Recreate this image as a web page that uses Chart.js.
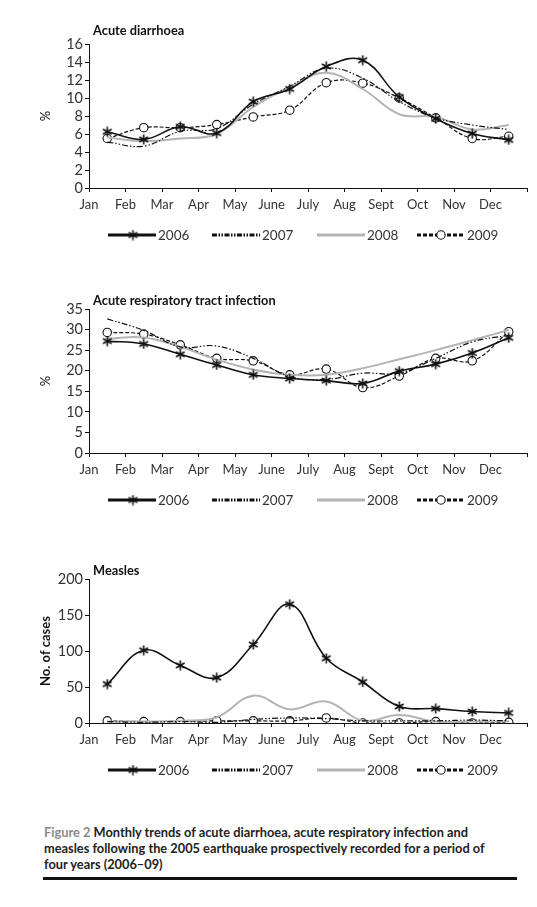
<!DOCTYPE html>
<html>
<head>
<meta charset="utf-8">
<script src="https://cdn.jsdelivr.net/npm/chart.js@4.4.1/dist/chart.umd.min.js"></script>
<style>
  body { margin: 0; background: #fff; width: 537px; height: 907px; position: relative; overflow: hidden; font-family: Lato, sans-serif; }
  .box { position: absolute; left: 0; width: 537px; height: 250px; }
  #cap { position: absolute; left: 44px; top: 825px; font-size: 12.8px; line-height: 15.8px; font-weight: bold; color: #222; white-space: nowrap; }
  #cap .fig { color: #8a8a8a; }
  #rule { position: absolute; left: 43px; top: 877px; width: 474px; height: 3px; background: #111; }
</style>
</head>
<body>
<div class="box" style="top:15px"><canvas id="c1" width="537" height="250"></canvas></div>
<div class="box" style="top:280px"><canvas id="c2" width="537" height="250"></canvas></div>
<div class="box" style="top:550px"><canvas id="c3" width="537" height="250"></canvas></div>
<div id="cap"><span class="fig">Figure 2</span> Monthly trends of acute diarrhoea, acute respiratory infection and<br>measles following the 2005 earthquake prospectively recorded for a period of<br>four years (2006–09)</div>
<div id="rule"></div>
<script>
  const months = ['Jan', 'Feb', 'Mar', 'Apr', 'May', 'June', 'July', 'Aug', 'Sept', 'Oct', 'Nov', 'Dec'];
  const years = ['2006', '2007', '2008', '2009'];

  // acute diarrhoea (%)
  const diarrhoea2006 = [6.25, 5.4, 6.8, 6.1, 9.6, 11.0, 13.5, 14.2, 10.1, 7.7, 6.05, 5.35];
  const diarrhoea2007 = [5.1, 4.65, 6.3, 6.6, 9.3, 11.3, 13.3, 12.2, 9.6, 7.8, 7.0, 6.5];
  const diarrhoea2008 = [5.6, 5.2, 5.5, 6.0, 9.0, 11.2, 12.8, 11.0, 8.2, 7.9, 6.5, 7.0];
  const diarrhoea2009 = [5.5, 6.7, 6.7, 7.05, 7.9, 8.65, 11.7, 11.65, 10.0, 7.8, 5.5, 5.75];

  // acute respiratory tract infection (%)
  const ari2006 = [27.2, 26.5, 24.0, 21.4, 19.0, 18.1, 17.6, 16.9, 19.9, 21.6, 24.3, 28.0];
  const ari2007 = [32.6, 29.8, 25.8, 26.0, 23.0, 18.6, 17.9, 19.4, 19.4, 23.0, 27.0, 28.6];
  const ari2008 = [27.8, 28.1, 25.8, 22.7, 20.3, 19.0, 19.0, 20.6, 22.8, 25.0, 27.4, 29.9];
  const ari2009 = [29.3, 28.9, 26.3, 23.0, 22.4, 19.0, 20.4, 15.9, 18.7, 23.0, 22.4, 29.5];

  // measles (no. of cases)
  const measles2006 = [54, 101, 80, 63, 109, 165, 90, 57, 23, 20, 16, 14];
  const measles2007 = [2, 1, 2, 1, 5, 7, 6, 3, 3, 3, 4, 3];
  const measles2008 = [2, 2, 3, 8, 38, 19, 30, 3, 11, 2, 2, 2];
  const measles2009 = [3, 2, 2, 3, 3, 3, 7, 0, 0, 2, 0, 1];

  Chart.defaults.font.family = 'Lato, sans-serif';
  Chart.defaults.color = '#333';

  // six point asterisk marker
  function makeStar(size, lw) {
    const c = document.createElement('canvas');
    c.width = size; c.height = size;
    const g = c.getContext('2d');
    const r = size / 2 - 0.5;
    g.strokeStyle = '#111';
    g.lineWidth = lw;
    g.lineCap = 'butt';
    g.translate(size / 2, size / 2);
    for (let k = 0; k < 3; k++) {
      const a = Math.PI / 2 + k * Math.PI / 3;
      g.beginPath();
      g.moveTo(Math.cos(a) * r, Math.sin(a) * r);
      g.lineTo(-Math.cos(a) * r, -Math.sin(a) * r);
      g.stroke();
    }
    return c;
  }
  const star = makeStar(11, 1.6);

  const looks = [
    { color: '#111', width: 1.6, dash: [], legendDash: [], marker: 'star' },
    { color: '#111', width: 1.2, dash: [6, 2, 1.5, 2, 1.5, 2], legendDash: [5, 1.5, 1.5, 1.5, 1.5, 1.5], marker: null },
    { color: '#b4b4b4', width: 2, dash: [], legendDash: [], marker: null },
    { color: '#111', width: 1.2, dash: [4, 2], legendDash: [4, 2], marker: 'circle' }
  ];

  const panelTitle = {
    id: 'panelTitle',
    afterDraw(chart, args, opts) {
      const ctx = chart.ctx;
      ctx.save();
      ctx.font = 'bold 12.8px Lato, sans-serif';
      ctx.fillStyle = '#111';
      ctx.textBaseline = 'middle';
      ctx.fillText(opts.text, chart.chartArea.left + 4, chart.chartArea.top - opts.dy);
      ctx.restore();
    }
  };

  const lineLegend = {
    id: 'lineLegend',
    afterDraw(chart, args, opts) {
      const ctx = chart.ctx;
      const y = chart.chartArea.bottom + opts.dy;
      const xs = [108, 212, 317, 417];
      chart.data.datasets.forEach((ds, i) => {
        const x = xs[i];
        const lk = looks[i];
        ctx.save();
        ctx.strokeStyle = lk.color;
        ctx.lineWidth = 2.8;
        ctx.setLineDash(lk.legendDash);
        ctx.beginPath();
        ctx.moveTo(x, y);
        ctx.lineTo(x + 48, y);
        ctx.stroke();
        ctx.setLineDash([]);
        if (lk.marker === 'star') {
          ctx.drawImage(star, x + 25 - 5.5, y - 5.5);
        } else if (lk.marker === 'circle') {
          ctx.beginPath();
          ctx.arc(x + 24, y, 4.2, 0, Math.PI * 2);
          ctx.fillStyle = '#fff';
          ctx.fill();
          ctx.lineWidth = 1.1;
          ctx.strokeStyle = '#111';
          ctx.stroke();
        }
        ctx.fillStyle = '#333';
        ctx.font = '13.5px Lato, sans-serif';
        ctx.textBaseline = 'middle';
        ctx.fillText(ds.label, x + 50, y + 1);
        ctx.restore();
      });
    }
  };

  function makeChart(id, title, titleDy, yTitle, yTitleBold, yMax, yStep, series) {
    const datasets = series.map((vals, i) => {
      const lk = looks[i];
      return {
        label: years[i],
        data: vals.map((v, j) => ({ x: j + 0.5, y: v })),
        borderColor: lk.color,
        borderWidth: lk.width,
        borderDash: lk.dash,
        tension: 0.4,
        fill: false,
        pointStyle: lk.marker === 'star' ? star : 'circle',
        pointRadius: lk.marker ? 4.2 : 0,
        pointBackgroundColor: '#fff',
        pointBorderColor: '#111',
        pointBorderWidth: 1.1
      };
    });
    return new Chart(document.getElementById(id), {
      type: 'line',
      data: { datasets },
      plugins: [panelTitle, lineLegend],
      options: {
        responsive: false,
        animation: false,
        devicePixelRatio: 1,
        layout: { padding: { top: 29, left: 38, right: 10, bottom: 42 } },
        plugins: {
          legend: { display: false },
          tooltip: { enabled: false },
          panelTitle: { text: title, dy: titleDy },
          lineLegend: { dy: 47 }
        },
        scales: {
          x: {
            type: 'linear',
            min: 0,
            max: 12,
            ticks: {
              stepSize: 1,
              autoSkip: false,
              maxRotation: 0,
              padding: 5,
              font: { size: 13 },
              callback: v => months[v] || ''
            },
            grid: { display: true, drawOnChartArea: false, drawTicks: true, tickLength: 4, color: '#111' },
            border: { display: true, color: '#111', width: 1 },
            afterFit: s => { s.height = 35; }
          },
          y: {
            min: 0,
            max: yMax,
            ticks: { stepSize: yStep, autoSkip: false, padding: 2, font: { size: 14.5 } },
            grid: { display: true, drawOnChartArea: false, drawTicks: true, tickLength: 4, color: '#111' },
            border: { display: true, color: '#111', width: 1 },
            title: { display: true, text: yTitle, color: '#111', font: { size: 13, weight: yTitleBold ? 'bold' : 'normal' }, padding: { top: 0, bottom: 0 } },
            afterFit: s => { s.width = 51; }
          }
        }
      }
    });
  }

  makeChart('c1', 'Acute diarrhoea', 13, '%', false, 16, 2,
    [diarrhoea2006, diarrhoea2007, diarrhoea2008, diarrhoea2009]);
  makeChart('c2', 'Acute respiratory tract infection', 8, '%', false, 35, 5,
    [ari2006, ari2007, ari2008, ari2009]);
  makeChart('c3', 'Measles', 8, 'No. of cases', true, 200, 50,
    [measles2006, measles2007, measles2008, measles2009]);
</script>
</body>
</html>
